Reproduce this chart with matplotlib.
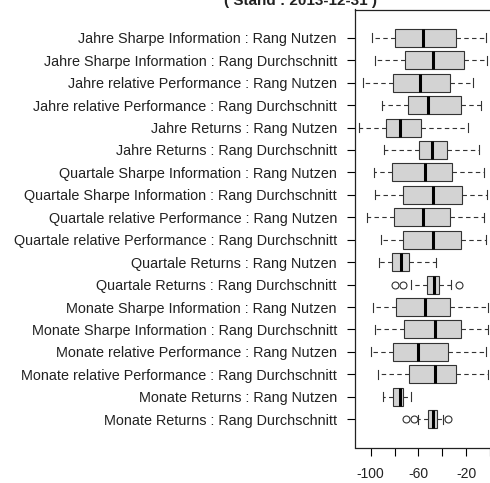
import matplotlib
matplotlib.use("Agg")
import matplotlib.pyplot as plt

plt.rcParams["font.family"] = ["Liberation Sans", "DejaVu Sans"]

# groups, bottom to top (R draws the first group at the bottom)
labels = [
    "Monate Returns : Rang Durchschnitt",
    "Monate Returns : Rang Nutzen",
    "Monate relative Performance : Rang Durchschnitt",
    "Monate relative Performance : Rang Nutzen",
    "Monate Sharpe Information : Rang Durchschnitt",
    "Monate Sharpe Information : Rang Nutzen",
    "Quartale Returns : Rang Durchschnitt",
    "Quartale Returns : Rang Nutzen",
    "Quartale relative Performance : Rang Durchschnitt",
    "Quartale relative Performance : Rang Nutzen",
    "Quartale Sharpe Information : Rang Durchschnitt",
    "Quartale Sharpe Information : Rang Nutzen",
    "Jahre Returns : Rang Durchschnitt",
    "Jahre Returns : Rang Nutzen",
    "Jahre relative Performance : Rang Durchschnitt",
    "Jahre relative Performance : Rang Nutzen",
    "Jahre Sharpe Information : Rang Durchschnitt",
    "Jahre Sharpe Information : Rang Nutzen",
]

whisker_lo = [-60.8, -89.4, -93.6, -100.0, -96.4, -98.3, -66.4, -93.0, -91.6,
              -102.8, -96.4, -97.0, -88.8, -109.8, -90.2, -106.2, -96.4, -98.6]
q1 = [-51.6, -81.0, -67.8, -81.0, -72.0, -79.0, -52.9, -81.8, -72.6,
      -80.4, -72.6, -82.4, -59.7, -87.1, -68.9, -81.0, -70.9, -79.6]
medians = [-47.4, -75.4, -46.0, -60.5, -46.5, -54.4, -46.8, -74.5, -47.9,
           -55.8, -47.4, -54.4, -48.5, -75.4, -51.6, -58.6, -47.9, -56.3]
q3 = [-44.5, -72.6, -28.6, -35.3, -24.1, -33.4, -42.4, -67.6, -24.4,
      -33.9, -23.5, -31.9, -36.1, -57.7, -24.1, -33.4, -22.2, -28.6]
whisker_hi = [-39.8, -66.4, -2.0, -3.1, -2.0, -2.0, -32.5, -45.4, -3.1,
              -4.8, -2.5, -4.8, -9.6, -18.8, -7.6, -14.3, -2.5, -3.1]
outliers = [[-70.6, -63.6, -35.6], [], [], [], [], [],
            [-79.6, -73.1, -26.4], [], [], [], [], [],
            [], [], [], [], [], []]

x_ticks = [-100, -80, -60, -40, -20, 0]
x_ticklabels = ["-100", "", "-60", "", "-20", ""]

stats = []
for i in range(len(labels)):
    stats.append({
        "whislo": whisker_lo[i], "q1": q1[i], "med": medians[i],
        "q3": q3[i], "whishi": whisker_hi[i], "fliers": outliers[i],
    })

fig = plt.figure(figsize=(4.9, 4.83), dpi=100)
ax = fig.add_axes([355 / 490, 1 - 447.5 / 483, 141 / 490, 438 / 483])

ax.bxp(
    stats,
    positions=range(1, len(labels) + 1),
    vert=False,
    widths=0.8,
    patch_artist=True,
    showfliers=True,
    boxprops=dict(facecolor="#d3d3d3", edgecolor="#333333", linewidth=0.8),
    medianprops=dict(color="black", linewidth=2.2, solid_capstyle="butt"),
    whiskerprops=dict(color="#333333", linewidth=0.8, linestyle=(0, (4, 3))),
    capprops=dict(color="#333333", linewidth=0.8),
    capwidths=0.4,
    flierprops=dict(marker="o", markersize=5, markerfacecolor="none",
                    markeredgecolor="#333333", markeredgewidth=0.8),
)

ax.set_xlim(-113.2, 5)
ax.set_ylim(-0.26, 19.26)
ax.set_yticks(range(1, len(labels) + 1))
ax.set_yticklabels(labels, fontsize=10.4, color="#222222")
ax.set_xticks(x_ticks)
ax.set_xticklabels(x_ticklabels, fontsize=10, color="#222222")
ax.tick_params(axis="y", length=6, width=0.8, pad=7)
ax.tick_params(axis="x", length=6, width=0.8, pad=8)
for sp in ax.spines.values():
    sp.set_linewidth(0.9)
    sp.set_color("#222222")

fig.text(300 / 490, 1 - 5 / 483, "( Stand : 2013-12-31 )", ha="center",
         va="baseline", fontsize=11, fontweight="bold", color="#222222")

fig.savefig("out.png", dpi=100)
